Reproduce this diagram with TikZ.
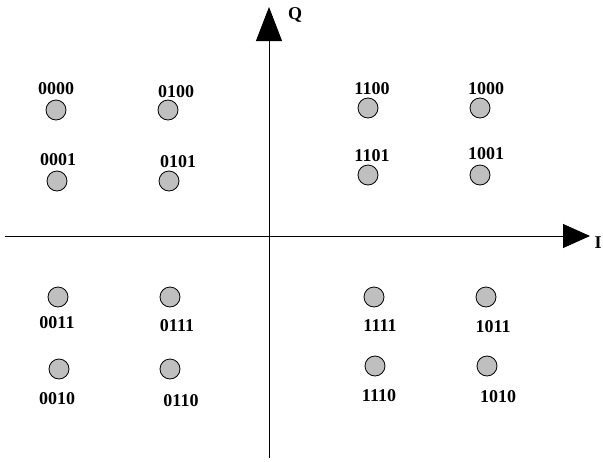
\documentclass[tikz,border=0pt]{standalone}
\usepackage{fontspec}
\setmainfont{Liberation Serif}
\usetikzlibrary{arrows.meta}
\begin{document}
\begin{tikzpicture}[x=1pt,y=-1pt,
  pt/.style={circle,draw=black,line width=0.8pt,fill=black!25,minimum size=20pt,inner sep=0pt},
  lbl/.style={font=\fontsize{18}{18}\selectfont\bfseries,inner sep=0pt},
  axis/.style={line width=0.9pt}]
\useasboundingbox (0,0) rectangle (603,461);
\coordinate (ybot) at (269,458);
\coordinate (ytop) at (269,7);
\coordinate (xl) at (5,236);
\coordinate (xr) at (590,236);
\draw[axis,-{Triangle[length=34pt,width=26pt]}] (ybot) -- (ytop);
\draw[axis,-{Triangle[length=27pt,width=24pt]}] (xl) -- (xr);
\node[lbl] (Q) at (295,15) {Q};
\node[lbl] (I) at (598,243) {I};
% points
\node[pt] (p0000) at (56,110) {};
\node[pt] (p0100) at (168,110) {};
\node[pt] (p0001) at (57,181) {};
\node[pt] (p0101) at (169,181) {};
\node[pt] (p1100) at (368,108) {};
\node[pt] (p1000) at (480,108) {};
\node[pt] (p1101) at (368,175) {};
\node[pt] (p1001) at (480,175) {};
\node[pt] (p0011) at (58,297) {};
\node[pt] (p0111) at (170,297) {};
\node[pt] (p0010) at (59,369) {};
\node[pt] (p0110) at (170,369) {};
\node[pt] (p1111) at (374,297) {};
\node[pt] (p1011) at (486,297) {};
\node[pt] (p1110) at (375,366) {};
\node[pt] (p1010) at (487,366) {};
% labels
\node[lbl] (l0000) at (56,89) {0000};
\node[lbl] (l0100) at (176,92) {0100};
\node[lbl] (l0001) at (58,160) {0001};
\node[lbl] (l0101) at (178,162) {0101};
\node[lbl] (l1100) at (372,89) {1100};
\node[lbl] (l1000) at (486,89) {1000};
\node[lbl] (l1101) at (372,156) {1101};
\node[lbl] (l1001) at (486,154) {1001};
\node[lbl] (l0011) at (57,323) {0011};
\node[lbl] (l0111) at (177,326) {0111};
\node[lbl] (l0010) at (57,399) {0010};
\node[lbl] (l0110) at (181,401) {0110};
\node[lbl] (l1111) at (380,326) {1111};
\node[lbl] (l1011) at (493,327) {1011};
\node[lbl] (l1110) at (379,396) {1110};
\node[lbl] (l1010) at (498,397) {1010};
\end{tikzpicture}
\end{document}
